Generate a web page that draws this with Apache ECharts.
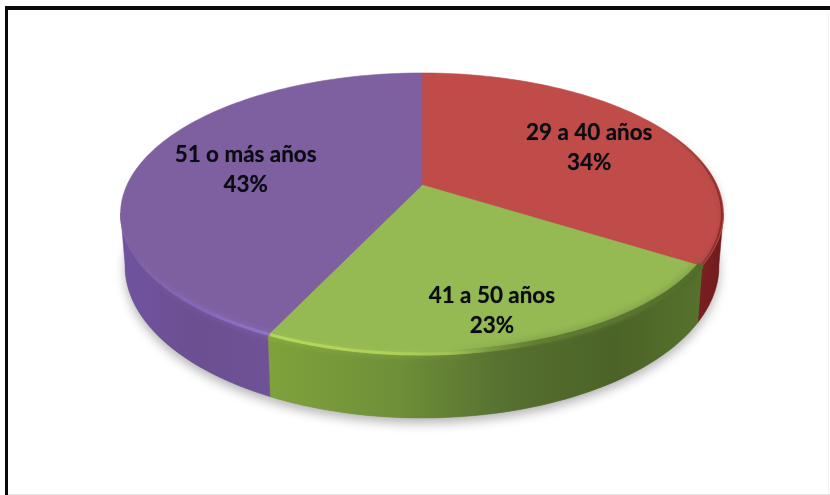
<!DOCTYPE html>
<html>
<head>
<meta charset="utf-8">
<style>html,body{margin:0;padding:0;background:#fff}#c{width:830px;height:495px}</style>
<script src="https://cdn.jsdelivr.net/npm/echarts@6/dist/echarts.min.js"></script>
</head>
<body>
<div id="c"></div>
<script>
const categories = ['29 a 40 años', '41 a 50 años', '51 o más años'];
const shares = [34, 23, 43];

// Slice styles, same order as categories
const topColors = ['#bf4c49', '#95b953', '#7e60a1'];
const wallStops = [
  [[0, '#7a1f20'], [0.5, '#771d1f'], [1, '#6e1a1c']],
  [[0, '#80a23c'], [0.3, '#6f8f38'], [0.55, '#567030'], [0.8, '#4b6327'], [1, '#56722c']],
  [[0, '#7053a0'], [0.5, '#6b4f90'], [1, '#6f5297']]
];
// Soft shading along the front edge: [from angle, to angle, stroke stops, width, blur, blur colour]
const rims = [
  [[62, 122, [[0, 'rgba(150,50,50,0)'], [1, 'rgba(120,35,35,0.8)']], 2, 6, 'rgba(120,35,35,0.5)']],
  [[122, 176, [[0, 'rgba(95,125,48,0)'], [0.35, 'rgba(85,112,44,0.75)'], [1, 'rgba(80,106,42,0.95)']], 7, 9, 'rgba(80,105,40,0.55)'],
   [170, 205, [[0, '#b6d85c'], [0.6, '#aed058'], [1, 'rgba(170,205,85,0)']], 3, 6, 'rgba(170,205,85,0.6)']],
  [[205, 243, [[0, 'rgba(132,104,185,0)'], [0.5, '#8767bb'], [1, '#9074c8']], 3, 6, 'rgba(140,110,195,0.7)']]
];
const labelNudges = [[-2, 5], [3, 20], [19, 5]];

// Projection of the tilted disc
const CX = 422, Y0 = 185, YB = 97, K = -0.2057, A = 295, DEPTH = 50;
const SIDE_R = 101.5, SIDE_L = 258.5;  // where the disc outline turns vertical
function project(deg, r, lower) {
  const t = deg * Math.PI / 180, X = r * Math.sin(t), Y = -r * Math.cos(t), w = 1 + K * Y;
  const sx = lower ? 0.985 : 1;
  return [CX + sx * A * X / w, (Y0 + YB * Y) / w + (lower ? DEPTH / w : 0)];
}
function arc(a0, a1, r, lower) {
  const n = Math.max(8, Math.ceil((a1 - a0) / 1.5)), pts = [];
  for (let i = 0; i <= n; i++) pts.push(project(a0 + (a1 - a0) * i / n, r, lower));
  return pts;
}
const hGrad = stops => ({
  type: 'linear', x: 0, y: 0, x2: 1, y2: 0,
  colorStops: stops.map(s => ({ offset: s[0], color: s[1] }))
});

const total = shares.reduce((a, b) => a + b, 0);

function renderItem(params, api) {
  const i = params.dataIndex;
  let before = 0;
  for (let j = 0; j < i; j++) before += shares[j];
  const a0 = before / total * 360, a1 = (before + api.value(1)) / total * 360;
  const mid = (a0 + a1) / 2;
  const w0 = Math.max(a0, SIDE_R), w1 = Math.min(a1, SIDE_L);
  const lp = project(mid, 0.7, false);
  const lx = lp[0] + labelNudges[i][0], ly = lp[1] + labelNudges[i][1];
  const children = [
    { type: 'polygon', z2: 0, shape: { points: [project(a0, 0, true)].concat(arc(a0, a1, 1, true)) },
      style: { fill: '#888', shadowColor: 'rgba(0,0,0,0.3)', shadowBlur: 11, shadowOffsetY: 5 } }
  ];
  if (w1 > w0) {
    children.push({ type: 'polygon', z2: 1,
      shape: { points: arc(w0, w1, 1, false).concat(arc(w0, w1, 1, true).reverse()) },
      style: { fill: hGrad(wallStops[i]), stroke: hGrad(wallStops[i]), lineWidth: 0.5 } });
  }
  children.push({ type: 'polygon', z2: 2, shape: { points: [project(a0, 0, false)].concat(arc(a0, a1, 1, false)) },
    style: { fill: topColors[i], stroke: topColors[i], lineWidth: 0.6 } });
  rims[i].forEach(rim => {
    children.push({ type: 'polyline', z2: 3, shape: { points: arc(rim[0], rim[1], 0.995, false) },
      style: { fill: null, stroke: hGrad(rim[2]), lineWidth: rim[3], lineCap: 'butt',
               shadowBlur: rim[4], shadowColor: rim[5] } });
  });
  children.push({ type: 'text', z2: 5, x: lx, y: ly,
    style: { text: api.value(0) + '\n' + api.value(1) + '%', align: 'center', verticalAlign: 'middle',
             font: 'bold 22.4px Lato, sans-serif', lineHeight: 30, fill: '#0b0b12',
             textShadowBlur: 1, textShadowColor: 'rgba(10,10,20,0.55)' } });
  return { type: 'group', children };
}

const chart = echarts.init(document.getElementById('c'), null, { renderer: 'canvas' });
chart.setOption({
  animation: false,
  backgroundColor: '#ffffff',
  graphic: [
    { type: 'rect', z: 10, shape: { x: 5, y: 6, width: 825, height: 4 }, style: { fill: '#0a0a0a' } },
    { type: 'rect', z: 10, shape: { x: 5, y: 6, width: 3, height: 489 }, style: { fill: '#0a0a0a' } },
    { type: 'rect', z: 10, shape: { x: 8, y: 494, width: 822, height: 1 }, style: { fill: '#e2e2e2' } },
    { type: 'rect', z: 10, shape: { x: 828, y: 14, width: 1, height: 480 }, style: { fill: '#f2f2f2' } }
  ],
  series: [{
    type: 'custom',
    coordinateSystem: 'none',
    silent: true,
    renderItem,
    data: categories.map((c, i) => [c, shares[i]])
  }]
});
</script>
</body>
</html>
